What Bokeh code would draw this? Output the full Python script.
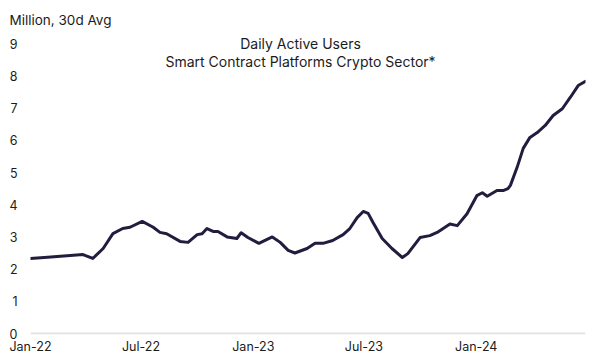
from datetime import datetime
from bokeh.plotting import figure
from bokeh.models import Range1d, FixedTicker, DatetimeTickFormatter, Label
from bokeh.embed import file_html
from bokeh.resources import INLINE

# ---- data ----
dates = [
    "2022-01-01", "2022-01-29", "2022-03-07", "2022-03-28", "2022-04-13", "2022-04-30",
    "2022-05-16", "2022-06-01", "2022-06-13", "2022-07-03", "2022-07-21", "2022-08-01",
    "2022-08-12", "2022-09-03", "2022-09-16", "2022-10-01", "2022-10-09", "2022-10-17",
    "2022-10-27", "2022-11-04", "2022-11-19", "2022-12-05", "2022-12-12", "2022-12-23",
    "2023-01-04", "2023-01-10", "2023-02-01", "2023-02-14", "2023-02-27", "2023-03-10",
    "2023-03-30", "2023-04-12", "2023-04-25", "2023-05-11", "2023-05-28", "2023-06-08",
    "2023-06-20", "2023-06-30", "2023-07-08", "2023-07-16", "2023-07-31", "2023-08-16",
    "2023-09-02", "2023-09-11", "2023-10-01", "2023-10-17", "2023-10-29", "2023-11-19",
    "2023-12-01", "2023-12-17", "2024-01-02", "2024-01-11", "2024-01-19", "2024-02-04",
    "2024-02-14", "2024-02-22", "2024-02-26", "2024-03-08", "2024-03-18", "2024-03-29",
    "2024-04-10", "2024-04-23", "2024-05-06", "2024-05-21", "2024-06-03", "2024-06-16",
    "2024-06-28",
]
dau_millions = [
    2.33, 2.37, 2.42, 2.45, 2.33, 2.64,
    3.10, 3.26, 3.30, 3.48, 3.30, 3.14,
    3.10, 2.86, 2.83, 3.07, 3.10, 3.26,
    3.17, 3.17, 3.00, 2.95, 3.13, 2.98,
    2.86, 2.80, 3.00, 2.83, 2.58, 2.50,
    2.64, 2.80, 2.80, 2.89, 3.07, 3.26,
    3.60, 3.79, 3.73, 3.45, 2.95, 2.64,
    2.36, 2.48, 2.98, 3.04, 3.14, 3.40,
    3.35, 3.72, 4.28, 4.37, 4.26, 4.44,
    4.44, 4.50, 4.60, 5.16, 5.75, 6.09,
    6.24, 6.46, 6.77, 6.98, 7.33, 7.70,
    7.83,
]
x_start = "2022-01-01"
x_end = "2024-06-28"
y_ticks = [0, 1, 2, 3, 4, 5, 6, 7, 8, 9]
x_tick_dates = ["2022-01-01", "2022-07-01", "2023-01-01", "2023-07-01", "2024-01-01"]
y_unit_label = "Million, 30d Avg"
title_lines = ["Daily Active Users", "Smart Contract Platforms Crypto Sector*"]

FONT = "Inter"
TXT = "#1c1c1c"
LINE = "#221d3f"

def d(s):
    return datetime.strptime(s, "%Y-%m-%d")

xs = [d(s) for s in dates]
x0, x1 = d(x_start), d(x_end)

TOP_PANEL = 27  # height of the title panel above the frame
y_top = (333 - TOP_PANEL) / 32.2

p = figure(width=598, height=361, x_axis_type="datetime",
           output_backend="svg", toolbar_location=None,
           x_range=Range1d(x0, x1), y_range=Range1d(-0.031, y_top),
           min_border_left=30, min_border_right=13, min_border_top=TOP_PANEL,
           min_border_bottom=27)
p.outline_line_color = None
p.background_fill_color = "white"
p.border_fill_color = "white"

p.title.text = y_unit_label
p.title.align = "left"
p.title.offset = -21
p.title.text_font = FONT
p.title.text_font_size = "13.5px"
p.title.text_font_style = "normal"
p.title.text_color = TXT
p.title.standoff = 0

p.line(xs, dau_millions, line_color=LINE, line_width=3, line_join="round", line_cap="round")

def ms(dt):
    return (dt - datetime(1970, 1, 1)).total_seconds() * 1000.0

p.xaxis.ticker = FixedTicker(ticks=[ms(d(s)) for s in x_tick_dates])
fmt = "%b-%y"
p.xaxis.formatter = DatetimeTickFormatter(days=fmt, months=fmt, years=fmt, hours=fmt,
                                          minutes=fmt, seconds=fmt, milliseconds=fmt,
                                          minsec=fmt, hourmin=fmt)
p.yaxis.ticker = FixedTicker(ticks=y_ticks)
for ax in (p.xaxis, p.yaxis):
    ax.axis_line_color = None
    ax.major_tick_line_color = None
    ax.minor_tick_line_color = None
    ax.major_tick_out = 0
    ax.major_tick_in = 0
    ax.major_label_text_font = FONT
    ax.major_label_text_font_size = "12.5px"
    ax.major_label_text_color = TXT
p.xaxis.major_label_standoff = 4
p.yaxis.major_label_standoff = 13

p.xgrid.grid_line_color = None
p.ygrid.ticker = FixedTicker(ticks=[0])
p.ygrid.grid_line_color = "#e2e2e2"
p.ygrid.grid_line_width = 2

p.add_layout(Label(x=270, y=9.0, x_units="screen", text=title_lines[0], text_font=FONT,
                   text_font_size="14px", text_color=TXT, text_baseline="middle",
                   text_align="center"))
p.add_layout(Label(x=270, y=8.44, x_units="screen", text=title_lines[1], text_font=FONT,
                   text_font_size="14px", text_color=TXT, text_baseline="middle",
                   text_align="center"))

open("out.html", "w").write(file_html(p, INLINE))
